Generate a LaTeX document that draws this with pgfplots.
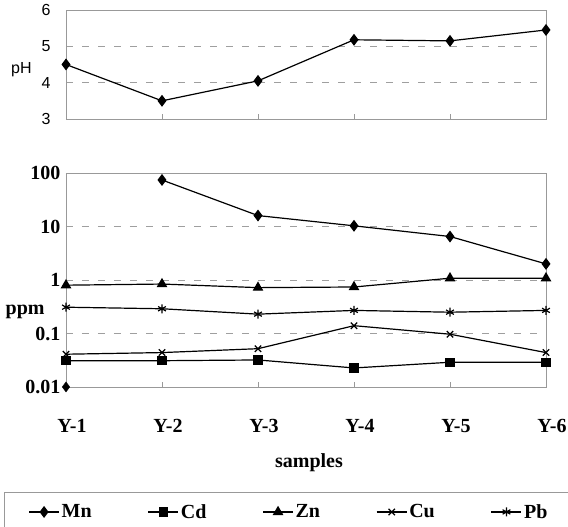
\documentclass[border=0pt]{standalone}
\usepackage{pgfplots}
\pgfplotsset{compat=1.18}
\usepackage{fontspec}
\setmainfont{Liberation Serif}
\newfontfamily\arialf{Liberation Sans}
\newcommand{\serf}{\bfseries\fontsize{20}{22}\selectfont}
\newcommand{\sanf}{\arialf\fontsize{16}{18}\selectfont}
\begin{document}
\begin{tikzpicture}[x=1pt,y=1pt]
\useasboundingbox (0,0) rectangle (568,527);
% ---------------- top panel: pH ----------------
\begin{axis}[
  at={(66pt,408pt)}, anchor=south west,
  width=480pt, height=109pt, scale only axis,
  xmin=0, xmax=5, ymin=3, ymax=6,
  clip=false,
  /pgf/number format/assume math mode=true,
  xtick={0,1,2,3,4,5}, xticklabels={},
  xtick pos=left, tick align=inside, major tick length=5pt,
  ytick={3,4,5,6}, yticklabels={3,4,5,6},
  ytick style={draw=none},
  xtick style={draw=gray!80, line width=0.8pt},
  ymajorgrids,
  major grid style={gray!75, line width=0.8pt, dash pattern=on 7pt off 9pt},
  axis line style={gray!80, line width=0.8pt},
  yticklabel style={font=\sanf, xshift=-12pt},
  ylabel={pH},
  ylabel style={font=\sanf, rotate=-90, at={(axis description cs:-0.093,0.45)}, anchor=center},
]
\addplot[black, line width=1.2pt, mark=diamond*, mark size=5pt, mark options={solid}]
  coordinates {(0,4.5) (1,3.5) (2,4.05) (3,5.18) (4,5.15) (5,5.45)};
\end{axis}
% ---------------- bottom panel: ppm ----------------
\begin{axis}[
  at={(66pt,140pt)}, anchor=south west,
  width=480pt, height=214pt, scale only axis,
  ymode=log,
  xmin=0, xmax=5, ymin=0.01, ymax=100,
  clip=false,
  /pgf/number format/assume math mode=true,
  xtick={0,1,2,3,4,5}, xticklabels={Y-1,Y-2,Y-3,Y-4,Y-5,Y-6},
  xtick pos=left, tick align=inside, major tick length=5pt,
  xtick style={draw=gray!80, line width=0.8pt},
  ytick={0.01,0.1,1,10,100}, yticklabels={0.01,0.1,1,10,100},
  ytick style={draw=none}, minor ytick={}, 
  yminorticks=false,
  ymajorgrids,
  major grid style={gray!75, line width=0.8pt, dash pattern=on 7pt off 9pt},
  axis line style={gray!80, line width=0.8pt},
  yticklabel style={font=\serf, xshift=-2pt},
  xticklabel style={font=\serf, anchor=base, yshift=-46pt, xshift=6pt},
  ylabel={ppm},
  ylabel style={font=\serf, rotate=-90, at={(axis description cs:-0.085,0.35)}, anchor=center},
  xlabel={samples},
  xlabel style={font=\serf, at={(axis description cs:0.5,0)}, anchor=base, yshift=-80pt, xshift=3pt},
  legend columns=5,
  legend style={at={(axis description cs:-0.129,-0.49)}, anchor=north west,
    draw=gray!80, line width=0.8pt, font=\serf,
    inner xsep=24pt, inner ysep=10pt,
    /tikz/every even column/.append style={column sep=54pt}},
  legend image code/.code={\draw[mark repeat=2, mark phase=2, #1]
    plot coordinates {(0pt,0pt) (15pt,0pt) (30pt,0pt)};},
]
\addplot[black, line width=1.2pt, mark=diamond*, mark size=5pt]
  coordinates {(1,74) (2,16) (3,10.3) (4,6.5) (5,2.0)};
\addlegendentry{Mn}
\addplot[black, line width=1.2pt, mark=square*, mark size=4pt]
  coordinates {(0,0.031) (1,0.031) (2,0.032) (3,0.0227) (4,0.029) (5,0.029)};
\addlegendentry{Cd}
\addplot[black, line width=1.2pt, mark=triangle*, mark size=5pt]
  coordinates {(0,0.80) (1,0.84) (2,0.72) (3,0.74) (4,1.08) (5,1.08)};
\addlegendentry{Zn}
\addplot[black, line width=1.2pt, mark=x, mark size=4.5pt]
  coordinates {(0,0.041) (1,0.044) (2,0.052) (3,0.14) (4,0.097) (5,0.044)};
\addlegendentry{Cu}
\addplot[black, line width=1.2pt, mark=asterisk, mark size=4.5pt]
  coordinates {(0,0.31) (1,0.29) (2,0.23) (3,0.27) (4,0.25) (5,0.27)};
\addlegendentry{Pb}
\addplot[black, only marks, mark=diamond*, mark size=5pt, forget plot]
  coordinates {(0,0.01)};
\end{axis}
\end{tikzpicture}
\end{document}
